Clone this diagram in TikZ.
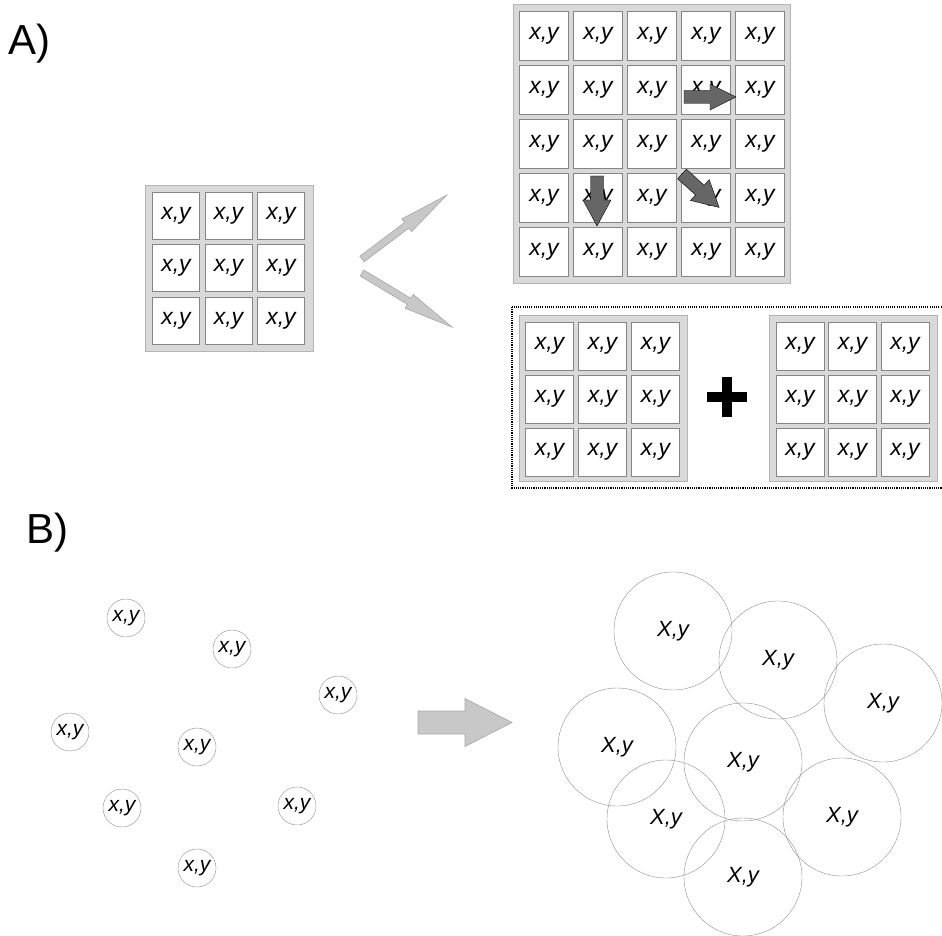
\documentclass[tikz,border=0pt]{standalone}
\usepackage{fontspec}
\setmainfont{Liberation Sans}
\usepackage{tikz}
\definecolor{framegrey}{HTML}{D9D9D9}
\definecolor{frameline}{HTML}{B4B4B4}
\definecolor{cellline}{HTML}{858585}
\definecolor{arrowdark}{HTML}{666666}
\definecolor{arrowlight}{HTML}{C8C8C8}
\definecolor{arrowline}{HTML}{A6A6A6}
\definecolor{circgrey}{HTML}{8E8E8E}

% fat block arrow: style, start, angle, length, shaft half width, head half width, head length
\newcommand{\blockarrow}[7]{%
  \draw[#1, shift={#2}, rotate=#3] (0,-#5) -- (#4-#7,-#5) -- (#4-#7,-#6) -- (#4,0)
    -- (#4-#7,#6) -- (#4-#7,#5) -- (0,#5) -- cycle;}

\begin{document}
\begin{tikzpicture}[
  x=1pt, y=-1pt,
  every node/.style={inner sep=0pt},
  frame/.style={draw=frameline, fill=framegrey, minimum width=168, minimum height=166},
  cell/.style={draw=cellline, fill=white, minimum size=#1, font=\itshape\fontsize{23}{23}\selectfont},
  cell/.default=47,
  dot/.style={circle, draw=circgrey, minimum size=38, font=\itshape\fontsize{21}{21}\selectfont},
  blob/.style={circle, draw=circgrey, minimum size=118, font=\itshape\fontsize{22}{22}\selectfont},
  darkarrow/.style={fill=arrowdark},
  lightarrow/.style={draw=arrowline, fill=arrowlight, line width=0.6pt},
  part/.style={font=\fontsize{42}{42}\selectfont, anchor=base west}
]
\useasboundingbox (0,0) rectangle (942,936);

%% part A
\node[part] (labelA) at (8,55) {A)};

% single 3x3 grid
\node[frame] (single) at (229,268) {};
\foreach \r in {0,1,2}
  \foreach \c in {0,1,2}
    \node[cell] (s-\r-\c) at ({176+52.5*\c},{215.5+52.5*\r}) {x,y};

% enlarged 5x5 grid
\node[frame, minimum width=277, minimum height=279] (large) at (651.5,143.5) {};
\foreach \r in {0,...,4}
  \foreach \c in {0,...,4}
    \node[cell=49] (l-\r-\c) at ({544+54*\c},{36+54*\r}) {x,y};

% moves inside the large grid
\blockarrow{darkarrow}{(684,97)}{0}{52}{6.5}{13}{26}
\blockarrow{darkarrow}{(597,176)}{-90}{50}{6.5}{14}{26}
\blockarrow{darkarrow}{(682,174)}{-42}{50}{6.5}{14}{26}

% two grids side by side
\draw[line width=1.1pt, dash pattern=on 1.1pt off 1.1pt] (512,307) rectangle (944,488);
\node[frame] (left) at (603,398.5) {};
\foreach \r in {0,1,2}
  \foreach \c in {0,1,2}
    \node[cell=48] (p-\r-\c) at ({549.5+53*\c},{346+53*\r}) {x,y};
\node[frame] (right) at (853,398.5) {};
\foreach \r in {0,1,2}
  \foreach \c in {0,1,2}
    \node[cell=48] (q-\r-\c) at ({800+52.5*\c},{346+53*\r}) {x,y};
\draw[line width=10pt] (707,397) -- (747,397) (727,377) -- (727,417);

% split arrows
\blockarrow{lightarrow}{(362,259)}{37}{106}{3.5}{8}{50}
\blockarrow{lightarrow}{(362,273)}{-31}{105}{3.5}{8}{50}

%% part B
\node[part] (labelB) at (26,543) {B)};

\foreach \n/\px/\py in {1/126/618, 2/232/649, 3/338/695, 4/70/732,
                         5/197/747, 6/122/808, 7/297/806, 8/197/868}
  \node[dot] (d\n) at (\px,\py) {x,y};

\blockarrow{lightarrow}{(418,722.5)}{0}{94}{11.5}{24}{47}

\foreach \n/\px/\py in {1/673/631, 2/778/660, 3/883/703, 4/617/747,
                         5/743/762, 6/666/819, 7/842/817, 8/743/877}
  \node[blob] (b\n) at (\px,\py) {X,y};

\end{tikzpicture}
\end{document}
